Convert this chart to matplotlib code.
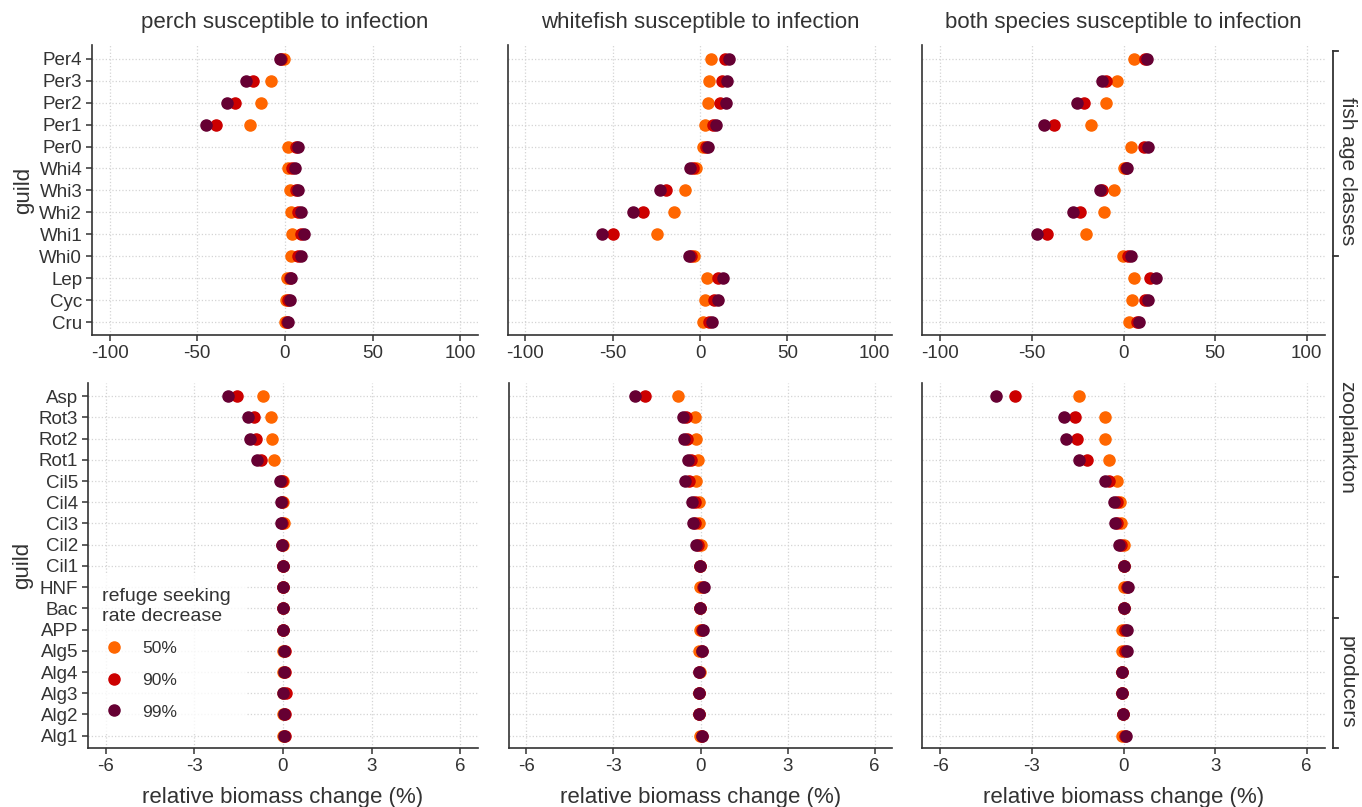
import matplotlib
matplotlib.use("Agg")
import matplotlib.pyplot as plt
import numpy as np

plt.rcParams['font.family'] = ['Liberation Sans', 'DejaVu Sans']
plt.rcParams['axes.unicode_minus'] = False

# guilds
fish_guilds = ['Per4', 'Per3', 'Per2', 'Per1', 'Per0', 'Whi4', 'Whi3', 'Whi2', 'Whi1', 'Whi0', 'Lep', 'Cyc', 'Cru']
plank_guilds = ['Asp', 'Rot3', 'Rot2', 'Rot1', 'Cil5', 'Cil4', 'Cil3', 'Cil2', 'Cil1', 'HNF', 'Bac', 'APP',
                'Alg5', 'Alg4', 'Alg3', 'Alg2', 'Alg1']
levels = ['50%', '90%', '99%']
titles = ['perch susceptible to infection', 'whitefish susceptible to infection', 'both species susceptible to infection']

# relative biomass change (%) - fish
perch_fish_50 = [-0.5, -8.2, -13.5, -20.0, 1.9, 1.7, 2.7, 3.2, 3.8, 3.2, 1.3, 0.4, -0.2]
perch_fish_90 = [-2.0, -18.3, -28.6, -39.6, 6.1, 4.2, 6.1, 7.6, 9.0, 7.4, 2.7, 1.7, 1.0]
perch_fish_99 = [-3.0, -22.1, -32.8, -45.0, 7.6, 5.5, 7.6, 9.1, 10.9, 9.0, 3.6, 2.7, 1.9]
white_fish_50 = [6.3, 5.4, 4.6, 2.9, 1.5, -2.3, -8.6, -14.8, -24.4, -3.3, 4.0, 3.0, 1.9]
white_fish_90 = [14.5, 12.4, 11.5, 7.6, 3.4, -4.2, -19.5, -32.6, -49.8, -5.2, 10.3, 8.2, 5.3]
white_fish_99 = [16.4, 15.3, 14.7, 9.2, 4.4, -5.6, -23.2, -38.3, -56.3, -6.5, 13.4, 10.3, 6.9]
both_fish_50 = [5.8, -3.3, -9.3, -17.8, 4.2, 0.4, -5.1, -10.9, -20.2, -0.4, 6.0, 4.9, 3.1]
both_fish_90 = [11.8, -9.5, -21.6, -38.0, 11.1, 1.5, -11.5, -23.6, -41.5, 2.4, 14.5, 11.5, 7.3]
both_fish_99 = [13.1, -11.5, -25.5, -43.5, 13.5, 2.0, -13.1, -27.8, -47.3, 4.2, 17.8, 13.6, 8.7]

# relative biomass change (%) - plankton and producers
perch_plank_50 = [-0.67, -0.41, -0.38, -0.30, 0.0, 0.0, 0.02, 0.0, 0.0, 0.0, 0.0, -0.01, -0.01, -0.01, -0.01, 0.0, -0.01]
perch_plank_90 = [-1.56, -0.97, -0.92, -0.75, -0.05, -0.04, -0.02, -0.02, 0.01, 0.01, 0.0, 0.01, 0.08, 0.08, 0.1, 0.06, 0.08]
perch_plank_99 = [-1.85, -1.17, -1.11, -0.89, -0.1, -0.08, -0.06, -0.04, 0.0, 0.01, 0.0, 0.01, 0.04, 0.02, 0.01, 0.02, 0.05]
white_plank_50 = [-0.77, -0.18, -0.16, -0.10, -0.16, -0.06, -0.06, 0.0, -0.02, -0.02, -0.02, -0.02, -0.05, -0.02, -0.05, -0.05, -0.03]
white_plank_90 = [-1.90, -0.49, -0.46, -0.32, -0.40, -0.18, -0.18, -0.07, -0.02, 0.08, -0.02, 0.05, 0.04, -0.05, -0.06, -0.05, 0.04]
white_plank_99 = [-2.27, -0.60, -0.58, -0.42, -0.52, -0.28, -0.27, -0.14, -0.02, 0.11, -0.02, 0.07, 0.06, -0.06, -0.06, -0.05, 0.06]
both_plank_50 = [-1.46, -0.62, -0.59, -0.46, -0.21, -0.10, -0.08, 0.0, 0.0, 0.0, 0.0, -0.06, -0.06, -0.04, -0.04, -0.03, -0.06]
both_plank_90 = [-3.54, -1.59, -1.52, -1.18, -0.49, -0.22, -0.20, -0.09, 0.02, 0.10, 0.0, 0.05, 0.05, -0.04, -0.04, -0.03, 0.05]
both_plank_99 = [-4.17, -1.95, -1.87, -1.45, -0.59, -0.31, -0.29, -0.15, 0.0, 0.15, 0.0, 0.10, 0.10, -0.04, -0.04, -0.03, 0.09]

fish_data = [[perch_fish_50, perch_fish_90, perch_fish_99],
             [white_fish_50, white_fish_90, white_fish_99],
             [both_fish_50, both_fish_90, both_fish_99]]
plank_data = [[perch_plank_50, perch_plank_90, perch_plank_99],
              [white_plank_50, white_plank_90, white_plank_99],
              [both_plank_50, both_plank_90, both_plank_99]]

colors = ['#FF6600', '#CC0000', '#660033']
txt = '#333333'
W, H = 1362, 807

fig = plt.figure(figsize=(W / 100, H / 100), dpi=100)

# panel boxes in pixels (left, right, top, bottom)
top_boxes = [(92, 478, 45, 335), (508, 892, 45, 335), (922, 1325, 45, 335)]
bot_boxes = [(88, 478, 383, 748), (509, 892, 383, 748), (922, 1325, 383, 748)]


def make_ax(box):
    l, r, t, b = box
    return fig.add_axes([l / W, 1 - b / H, (r - l) / W, (b - t) / H])


def style_ax(ax, guilds, xticks, xlim, show_y):
    ax.set_xlim(xlim)
    ax.set_ylim(len(guilds) - 1 + 0.58, -0.62)
    ax.set_xticks(xticks)
    ax.set_yticks(np.arange(len(guilds)))
    ax.set_yticklabels(guilds if show_y else [])
    ax.grid(True, color='#d4d4d4', linestyle=':', linewidth=0.9)
    ax.set_axisbelow(True)
    for s in ['top', 'right']:
        ax.spines[s].set_visible(False)
    for s in ['left', 'bottom']:
        ax.spines[s].set_color(txt)
        ax.spines[s].set_linewidth(1.2)
    ax.tick_params(axis='both', colors=txt, labelsize=13.5, length=4, width=1.1, pad=3)
    if not show_y:
        ax.tick_params(axis='y', length=0)


top_axes = []
bot_axes = []
for i in range(3):
    ax = make_ax(top_boxes[i])
    ypos = np.arange(len(fish_guilds))
    for k in range(3):
        ax.plot(fish_data[i][k], ypos, 'o', color=colors[k], markersize=8, linestyle='none', label=levels[k])
    style_ax(ax, fish_guilds, [-100, -50, 0, 50, 100], (-110, 110), i == 0)
    ax.set_title(titles[i], fontsize=16, color=txt, pad=12)
    if i == 0:
        ax.set_ylabel('guild', fontsize=16, color=txt, labelpad=4)
    top_axes.append(ax)

    ax = make_ax(bot_boxes[i])
    ypos = np.arange(len(plank_guilds))
    for k in range(3):
        ax.plot(plank_data[i][k], ypos, 'o', color=colors[k], markersize=8, linestyle='none', label=levels[k])
    style_ax(ax, plank_guilds, [-6, -3, 0, 3, 6], (-6.6, 6.6), i == 0)
    ax.set_xlabel('relative biomass change (%)', fontsize=16, color=txt, labelpad=9)
    if i == 0:
        ax.set_ylabel('guild', fontsize=16, color=txt, labelpad=4)
    bot_axes.append(ax)

# legend in the lower left panel (kept under the axis lines)
leg = bot_axes[0].legend(title='refuge seeking\nrate decrease', loc='lower left', frameon=True,
                         fontsize=12.5, title_fontsize=14, labelspacing=0.95, handletextpad=0.9,
                         borderaxespad=0.0, borderpad=0.8, handlelength=1.4,
                         bbox_to_anchor=(0.0, 0.04))
leg.get_frame().set_facecolor('white')
leg.get_frame().set_edgecolor('white')
leg.set_zorder(2.2)
leg._legend_box.align = 'left'
for t in leg.get_texts():
    t.set_color(txt)
leg.get_title().set_color(txt)


# right-hand bracket with group labels
def fig_y(ax, y):
    return fig.transFigure.inverted().transform(ax.transData.transform((0, y)))[1]


xl = 1333 / W
xt = 1338 / W
y_top = fig_y(top_axes[2], -0.36)
y_bot = fig_y(bot_axes[2], len(plank_guilds) - 1 + 0.58)
fig.add_artist(plt.Line2D([xl, xl], [y_top, y_bot], color=txt, lw=1.3))
for yy in [y_top, fig_y(top_axes[2], 9), fig_y(bot_axes[2], 8.5), fig_y(bot_axes[2], 10.45), y_bot]:
    fig.add_artist(plt.Line2D([xl, xt], [yy, yy], color=txt, lw=1.3))

xlab = 1347 / W
fig.text(xlab, fig_y(top_axes[2], 5.1), 'fish age classes', rotation=-90, ha='center', va='center', fontsize=15, color=txt)
fig.text(xlab, fig_y(bot_axes[2], 1.93), 'zooplankton', rotation=-90, ha='center', va='center', fontsize=15, color=txt)
fig.text(xlab, fig_y(bot_axes[2], 13.5), 'producers', rotation=-90, ha='center', va='center', fontsize=15, color=txt)

fig.savefig('out.png', dpi=100)
